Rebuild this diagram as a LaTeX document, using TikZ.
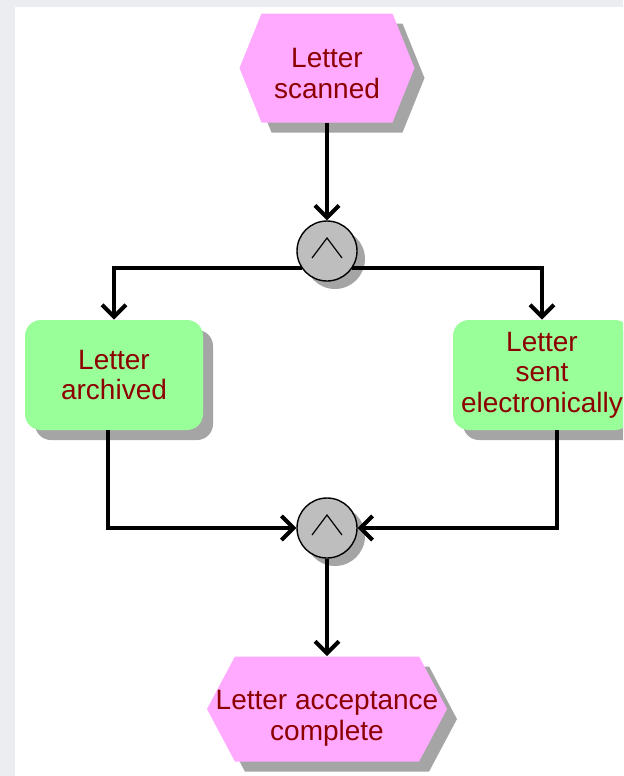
\documentclass[tikz,border=0pt]{standalone}
\usepackage{fontspec}
\setmainfont{Liberation Sans}
\usetikzlibrary{shapes.symbols,shadows,arrows.meta}
\definecolor{eventpink}{RGB}{255,170,255}
\definecolor{funcgreen}{RGB}{153,255,153}
\definecolor{labelred}{RGB}{140,0,0}
\definecolor{joingray}{RGB}{190,190,190}
\definecolor{shadegray}{RGB}{165,165,165}
\definecolor{pagegray}{RGB}{236,237,241}
\newcommand{\lowerby}[1]{\rule{0pt}{#1}}
\tikzset{
  shade/.style={drop shadow={shadow xshift=5pt,shadow yshift=-5pt,fill=shadegray,opacity=1}},
  label text/.style={text=labelred,align=center,font=\fontsize{14}{15.3}\selectfont},
  event/.style={signal,signal to=west and east,fill=eventpink,
    inner sep=0pt,label text,shade},
  function/.style={rectangle,rounded corners=8pt,fill=funcgreen,minimum width=89pt,
    minimum height=55pt,inner sep=0pt,label text,shade},
  andjoin/.style={circle,draw,line width=0.7pt,fill=joingray,minimum size=30pt,inner sep=0pt,
    drop shadow={shadow xshift=4pt,shadow yshift=-4pt,fill=shadegray,opacity=1}},
  flow/.style={line width=2pt,-{Straight Barb[length=6pt,width=12pt]}}
}
\begin{document}
\begin{tikzpicture}[x=0.5pt,y=-0.5pt]
  \useasboundingbox (0,0) rectangle (623,776);
  \clip (0,0) rectangle (623,776);
  \fill[pagegray] (0,0) rectangle (623,776);
  \fill[white] (15,7) rectangle (623,776);
  % events and functions
  \node[event,signal pointer angle=136,minimum width=87.5pt,minimum height=54.5pt] (scan) at (327,68) {\lowerby{15pt}Letter\\scanned};
  \node[andjoin] (and1) at (327,251) {};
  \node[function] (arch) at (114,375) {Letter\\archived};
  \node[function] (sent) at (542,375) {Letter\\sent\\electronically};
  \node[andjoin] (and2) at (327,528) {};
  \node[event,signal pointer angle=124,inner xsep=-12pt,minimum width=120pt,minimum height=52.5pt] (done) at (327,709) {\lowerby{19pt}Letter acceptance\\complete};
  % and symbols
  \foreach \j in {and1,and2}
    \draw[line width=0.6pt] ([shift={(-7.5pt,-3.5pt)}]\j.center) -- ([shift={(0pt,6.5pt)}]\j.center)
      -- ([shift={(7.5pt,-3.5pt)}]\j.center);
  % connectors
  \draw[flow] (scan.south) -- (and1.north);
  \draw[flow] (and1.214) -| (arch.north);
  \draw[flow] (and1.326) -| (sent.north);
  \draw[flow] ([xshift=-3pt]arch.south) |- (and2.west);
  \draw[flow] ([xshift=7.5pt]sent.south) |- (and2.east);
  \draw[flow] (and2.south) -- (done.north);
\end{tikzpicture}
\end{document}
